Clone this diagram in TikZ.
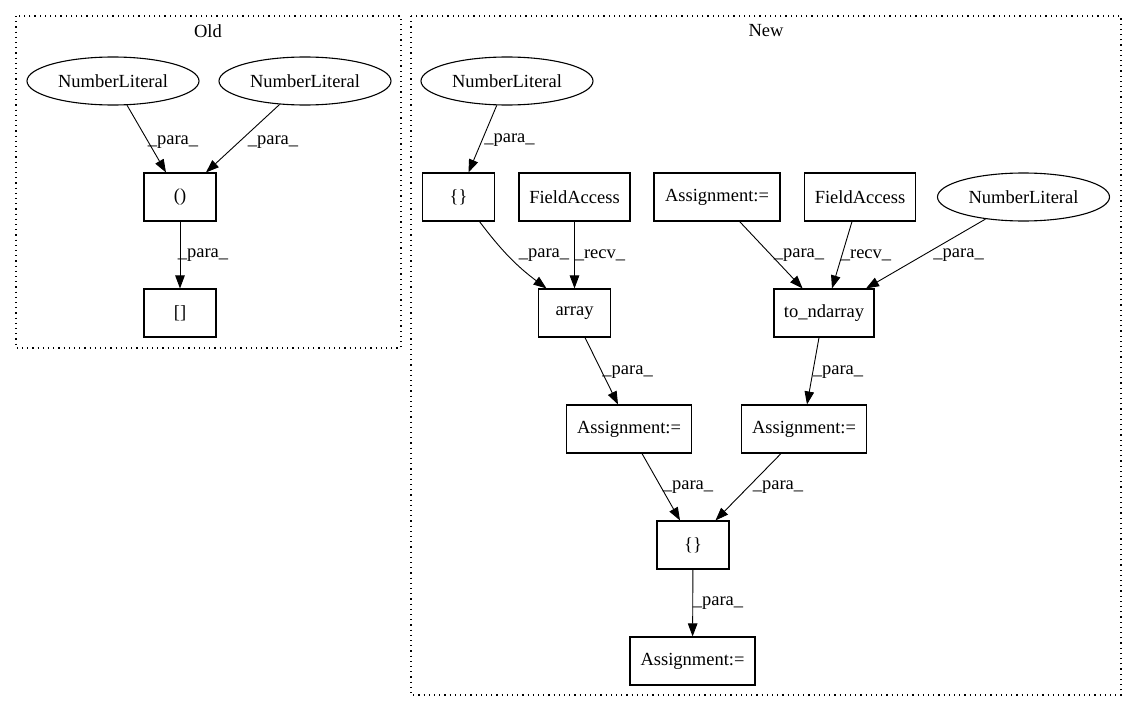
\documentclass[tikz,border=0pt]{standalone}
\usepackage{fontspec}
\setmainfont{Liberation Serif}
\usetikzlibrary{arrows.meta,shapes.geometric}
\begin{document}
\begin{tikzpicture}[x=1pt,y=-1pt,
  every node/.style={font=\fontsize{18.5}{20}\selectfont, inner sep=0pt},
  box/.style={draw, line width=1.1pt, minimum height=48pt},
  ell/.style={draw, ellipse, line width=1.1pt, minimum width=172pt, minimum height=48pt},
  conn/.style={-{Triangle[length=13pt,width=9.5pt]}, line width=0.9pt},
  cluster/.style={draw, line width=1.1pt, dash pattern=on 1.2pt off 4pt}]
\useasboundingbox (0,0) rectangle (1136,712);
% clusters
\draw[cluster] (16,16) rectangle (401,348);
\draw[cluster] (411,16) rectangle (1121,695);
\node (tOld) at (208,31) {Old};
\node (tNew) at (766,31) {New};
% Old nodes
\node[ell] (o1) at (113,81) {NumberLiteral};
\node[ell] (o2) at (305,81) {NumberLiteral};
\node[box, minimum width=72pt] (op) at (180,197) {()};
\node[box, minimum width=72pt] (ob) at (180,313) {[]};
\draw[conn] (o1) -- ([xshift=-14pt]op.north);
\draw[conn] (o2) -- ([xshift=26pt]op.north);
\draw[conn] (op) -- (ob);
\node (lo1) at (173,142) {\_para\_};
\node (lo2) at (273,142) {\_para\_};
\node (lo3) at (203,255) {\_para\_};
% New nodes
\node[ell] (nlt) at (507,81) {NumberLiteral};
\node[box, minimum width=72pt] (br1) at (458.5,197) {\{\}};
\node[box, minimum width=111pt] (fa1) at (574.5,197) {FieldAccess};
\node[box, minimum width=126pt] (at) at (717,197) {Assignment:=};
\node[box, minimum width=111pt] (fa2) at (860,197) {FieldAccess};
\node[ell] (nlr) at (1023.5,197) {NumberLiteral};
\node[box, minimum width=72pt] (arr) at (574.5,313) {array};
\node[box, minimum width=100pt] (tnd) at (824,313) {to\_ndarray};
\node[box, minimum width=125pt] (al) at (629,429) {Assignment:=};
\node[box, minimum width=125pt] (ar) at (804,429) {Assignment:=};
\node[box, minimum width=72pt] (br2) at (693,545) {\{\}};
\node[box, minimum width=125pt] (ab) at (692.5,661) {Assignment:=};
% New edges
\draw[conn] (nlt) -- ([xshift=10pt]br1.north);
\draw[conn] ([xshift=21pt]br1.south) to[bend right=8] ([xshift=-28pt]arr.north);
\draw[conn] (fa1) -- (arr);
\draw[conn] ([xshift=22.6pt]at.south) -- ([xshift=-21.4pt]tnd.north);
\draw[conn] ([xshift=-8pt]fa2.south) -- ([xshift=8pt]tnd.north);
\draw[conn] (nlr) -- ([xshift=42pt]tnd.north);
\draw[conn] ([xshift=10.5pt]arr.south) -- ([xshift=-11pt]al.north);
\draw[conn] ([xshift=-5pt]tnd.south) -- ([xshift=3pt]ar.north);
\draw[conn] ([xshift=13pt]al.south) -- ([xshift=-13pt]br2.north);
\draw[conn] ([xshift=-23pt]ar.south) -- ([xshift=22.5pt]br2.north);
\draw[conn] (br2) -- (ab);
% New labels
\node (ln1) at (509.5,140) {\_para\_};
\node (ln2) at (544,255) {\_para\_};
\node (ln3) at (600,255) {\_recv\_};
\node (ln4) at (799,255) {\_para\_};
\node (ln5) at (866,255) {\_recv\_};
\node (ln6) at (958.6,255) {\_para\_};
\node (ln7) at (627.6,372) {\_para\_};
\node (ln8) at (838,372) {\_para\_};
\node (ln9) at (688,487) {\_para\_};
\node (ln10) at (778,487) {\_para\_};
\node (ln11) at (718,603) {\_para\_};
\end{tikzpicture}
\end{document}
